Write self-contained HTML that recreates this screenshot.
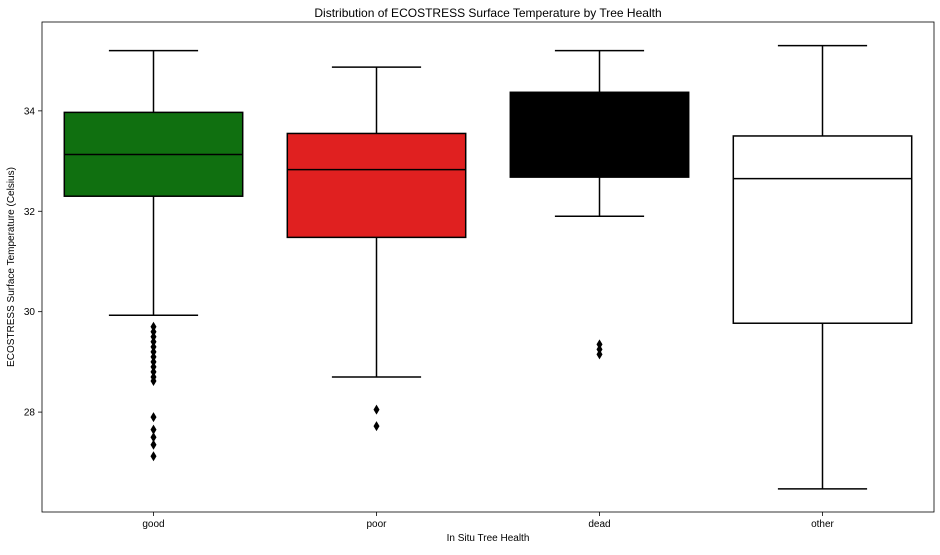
<!DOCTYPE html>
<html><head><meta charset="utf-8"><style>
body{margin:0;background:#fff;}
text{font-family:"Liberation Sans","DejaVu Sans",sans-serif;fill:#000;}
</style></head><body>
<svg id="chart" width="940" height="550" xmlns="http://www.w3.org/2000/svg">
<rect width="940" height="550" fill="#fff"/>
<text x="488" y="17" font-size="12" text-anchor="middle">Distribution of ECOSTRESS Surface Temperature by Tree Health</text>
<text x="488" y="541" font-size="10" text-anchor="middle">In Situ Tree Health</text>
<text x="14" y="267" font-size="10" text-anchor="middle" transform="rotate(-90 14 267)">ECOSTRESS Surface Temperature (Celsius)</text>
<g id="marks"></g>
<rect x="42" y="22" width="892" height="490" fill="none" stroke="#000" stroke-width="0.8"/>
</svg>
<script>
const categories=["good","poor","dead","other"];
const colors=["#107010","#e02020","#000000","#ffffff"];
const whiskerHigh=[35.2,34.87,35.2,35.3];
const q3=[33.97,33.55,34.37,33.5];
const medians=[33.13,32.83,33.3,32.65];
const q1=[32.3,31.48,32.68,29.77];
const whiskerLow=[29.93,28.7,31.9,26.47];
const outliers=[
 [29.7,29.6,29.5,29.4,29.3,29.2,29.1,29.0,28.9,28.8,28.7,28.62,27.9,27.65,27.5,27.35,27.12],
 [28.05,27.72],
 [29.35,29.25,29.15],
 []
];
const yTicks=[28,30,32,34];
const yMin=26.01,yMax=35.77,plotTop=22,plotBottom=512,plotLeft=42,plotRight=934;
const NS="http://www.w3.org/2000/svg";
const svg=document.getElementById('chart');
const marks=document.getElementById('marks');
function y(v){return plotBottom-(v-yMin)/(yMax-yMin)*(plotBottom-plotTop);}
const band=(plotRight-plotLeft)/categories.length;
function xc(i){return plotLeft+band*(i+0.5);}
function mk(tag,attrs,parent){const e=document.createElementNS(NS,tag);for(const k in attrs)e.setAttribute(k,attrs[k]);(parent||marks).appendChild(e);return e;}
yTicks.forEach(t=>{
 const g=mk('g',{});
 
 
 mk('line',{x1:plotLeft-4,x2:plotLeft,y1:y(t),y2:y(t),stroke:'#000','stroke-width':0.8},g);
 const tx=mk('text',{x:plotLeft-7,y:y(t)+3.5,'font-size':10,'text-anchor':'end'},g);
 tx.textContent=t;
});
categories.forEach((c,i)=>{
 const g=mk('g',{});
 
 
 const cx=xc(i),bw=band*0.8,cap=bw/2;
 mk('line',{x1:cx,x2:cx,y1:y(whiskerHigh[i]),y2:y(q3[i]),stroke:'#000','stroke-width':1.5},g);
 mk('line',{x1:cx,x2:cx,y1:y(q1[i]),y2:y(whiskerLow[i]),stroke:'#000','stroke-width':1.5},g);
 mk('line',{x1:cx-cap/2,x2:cx+cap/2,y1:y(whiskerHigh[i]),y2:y(whiskerHigh[i]),stroke:'#000','stroke-width':1.5},g);
 mk('line',{x1:cx-cap/2,x2:cx+cap/2,y1:y(whiskerLow[i]),y2:y(whiskerLow[i]),stroke:'#000','stroke-width':1.5},g);
 mk('rect',{x:cx-bw/2,y:y(q3[i]),width:bw,height:y(q1[i])-y(q3[i]),fill:colors[i],stroke:'#000','stroke-width':1.5},g);
 mk('line',{x1:cx-bw/2,x2:cx+bw/2,y1:y(medians[i]),y2:y(medians[i]),stroke:'#000','stroke-width':1.5},g);
 outliers[i].forEach(v=>{
  const d=mk('path',{d:`M${cx} ${y(v)-5}L${cx+3} ${y(v)}L${cx} ${y(v)+5}L${cx-3} ${y(v)}Z`,fill:'#000'},g);
  
  
 });
 mk('line',{x1:cx,x2:cx,y1:plotBottom,y2:plotBottom+4,stroke:'#000','stroke-width':0.8},g);
 const tx=mk('text',{x:cx,y:plotBottom+15,'font-size':10,'text-anchor':'middle'},g);
 
 
 tx.textContent=c;
});
</script>
</body></html>
